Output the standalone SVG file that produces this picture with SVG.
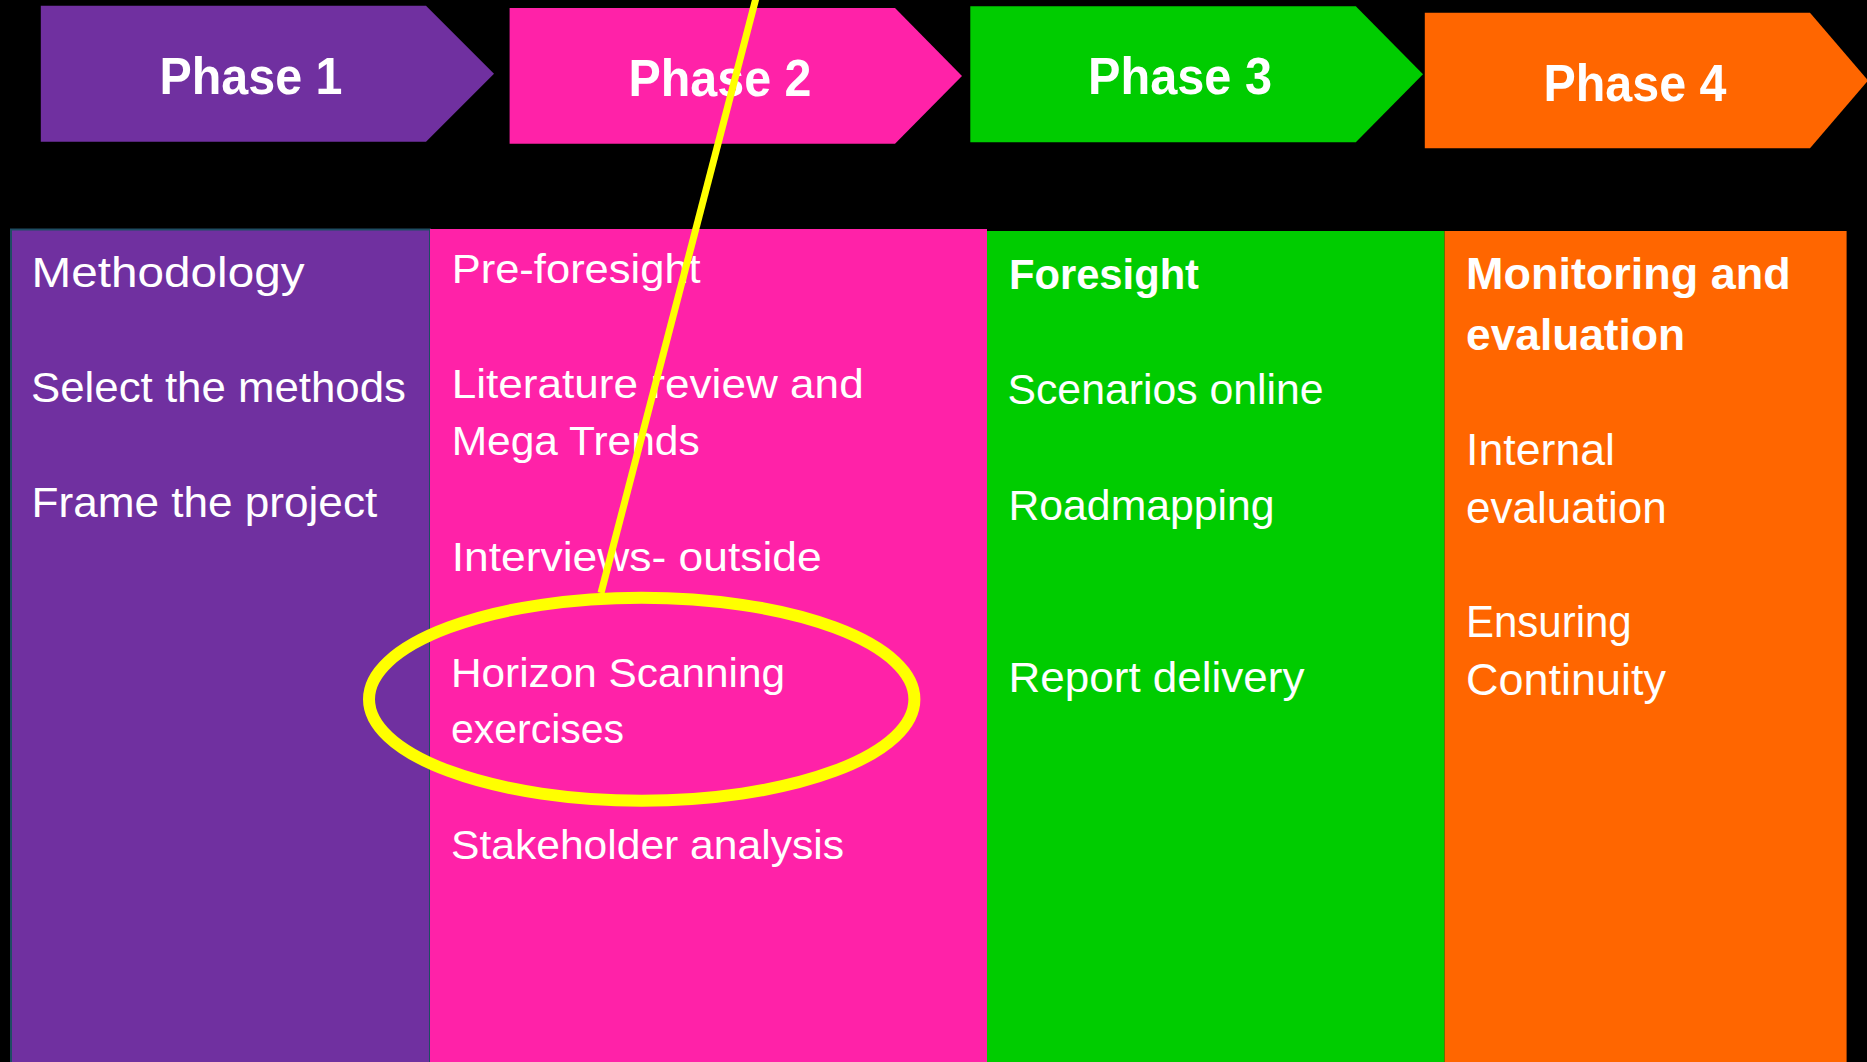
<svg xmlns="http://www.w3.org/2000/svg" width="1867" height="1062" viewBox="0 0 1867 1062">
<style>
.ph{font-family:"Liberation Sans",Arial,sans-serif;font-weight:bold;font-size:52px;fill:#fff;text-anchor:middle}
.t{font-family:"Liberation Sans",Arial,sans-serif;fill:#fff}
.b{font-weight:bold}
.mark{fill:none;stroke:#FFFF00}
</style>
<rect x="0" y="0" width="1867" height="1062" fill="#000"/>
<g id="phase1">
<polygon points="40.8,5.7 426,5.7 494,73.7 426,141.7 40.8,141.7" fill="#7030A0"/>
<text class="ph" x="251" y="94" textLength="183" lengthAdjust="spacingAndGlyphs">Phase 1</text>
</g>
<g id="phase2">
<polygon points="509.6,8 895,8 962,76 895,143.7 509.6,143.7" fill="#FF22A8"/>
<text class="ph" x="720" y="96" textLength="183" lengthAdjust="spacingAndGlyphs">Phase 2</text>
</g>
<g id="phase3">
<polygon points="970.3,6.3 1355.8,6.3 1423,74.3 1355.8,142.3 970.3,142.3" fill="#00CC00"/>
<text class="ph" x="1180" y="94" textLength="184" lengthAdjust="spacingAndGlyphs">Phase 3</text>
</g>
<g id="phase4">
<polygon points="1424.8,12.7 1810,12.7 1868,80.5 1810,148.3 1424.8,148.3" fill="#FF6600"/>
<text class="ph" x="1635" y="100.7" textLength="183" lengthAdjust="spacingAndGlyphs">Phase 4</text>
</g>
<g id="col1">
<rect x="11" y="229.5" width="419" height="840" fill="#7030A0" stroke="#1E4D62" stroke-width="2"/>
<g class="t" font-size="42">
<text x="31.5" y="287.3" textLength="273" lengthAdjust="spacingAndGlyphs">Methodology</text>
<text x="31" y="401.7" textLength="375" lengthAdjust="spacingAndGlyphs">Select the methods</text>
<text x="31.5" y="516.7" textLength="345.7" lengthAdjust="spacingAndGlyphs">Frame the project</text>
</g>
</g>
<g id="col2">
<rect x="430" y="229" width="557" height="840" fill="#FF22A8"/>
<g class="t" font-size="41">
<text x="451.7" y="283.3" textLength="249" lengthAdjust="spacingAndGlyphs">Pre-foresight</text>
<text x="451.7" y="397.7" textLength="412" lengthAdjust="spacingAndGlyphs">Literature review and</text>
<text x="451.7" y="455" textLength="248" lengthAdjust="spacingAndGlyphs">Mega Trends</text>
<text x="451.7" y="570.7" textLength="370" lengthAdjust="spacingAndGlyphs">Interviews- outside</text>
<text x="451" y="686.7" textLength="334" lengthAdjust="spacingAndGlyphs">Horizon Scanning</text>
<text x="451" y="743" textLength="173" lengthAdjust="spacingAndGlyphs">exercises</text>
<text x="451" y="859" textLength="393" lengthAdjust="spacingAndGlyphs">Stakeholder analysis</text>
</g>
</g>
<g id="col3">
<rect x="987" y="231" width="457.6" height="840" fill="#00CC00"/>
<g class="t" font-size="43">
<text class="b" x="1009" y="289" textLength="190" lengthAdjust="spacingAndGlyphs">Foresight</text>
<text x="1007.5" y="404.3" textLength="316" lengthAdjust="spacingAndGlyphs">Scenarios online</text>
<text x="1008.5" y="520" textLength="266" lengthAdjust="spacingAndGlyphs">Roadmapping</text>
<text x="1008.5" y="692.3" textLength="296" lengthAdjust="spacingAndGlyphs">Report delivery</text>
</g>
</g>
<g id="col4">
<rect x="1444.6" y="231" width="402" height="840" fill="#FF6600"/>
<g class="t" font-size="45">
<text class="b" x="1466" y="289.3" textLength="324.7" lengthAdjust="spacingAndGlyphs">Monitoring and</text>
<text class="b" x="1466" y="350" textLength="219" lengthAdjust="spacingAndGlyphs">evaluation</text>
<text x="1466" y="465" textLength="149" lengthAdjust="spacingAndGlyphs">Internal</text>
<text x="1466" y="522.7" textLength="200.7" lengthAdjust="spacingAndGlyphs">evaluation</text>
<text x="1466" y="636.7" textLength="165.7" lengthAdjust="spacingAndGlyphs">Ensuring</text>
<text x="1466" y="695" textLength="200" lengthAdjust="spacingAndGlyphs">Continuity</text>
</g>
</g>
<g id="connectors">
<line class="mark" x1="756" y1="-2" x2="601" y2="593" stroke-width="7"/>
<ellipse class="mark" cx="641.7" cy="699.2" rx="272.7" ry="101.5" stroke-width="12"/>
</g>
</svg>
